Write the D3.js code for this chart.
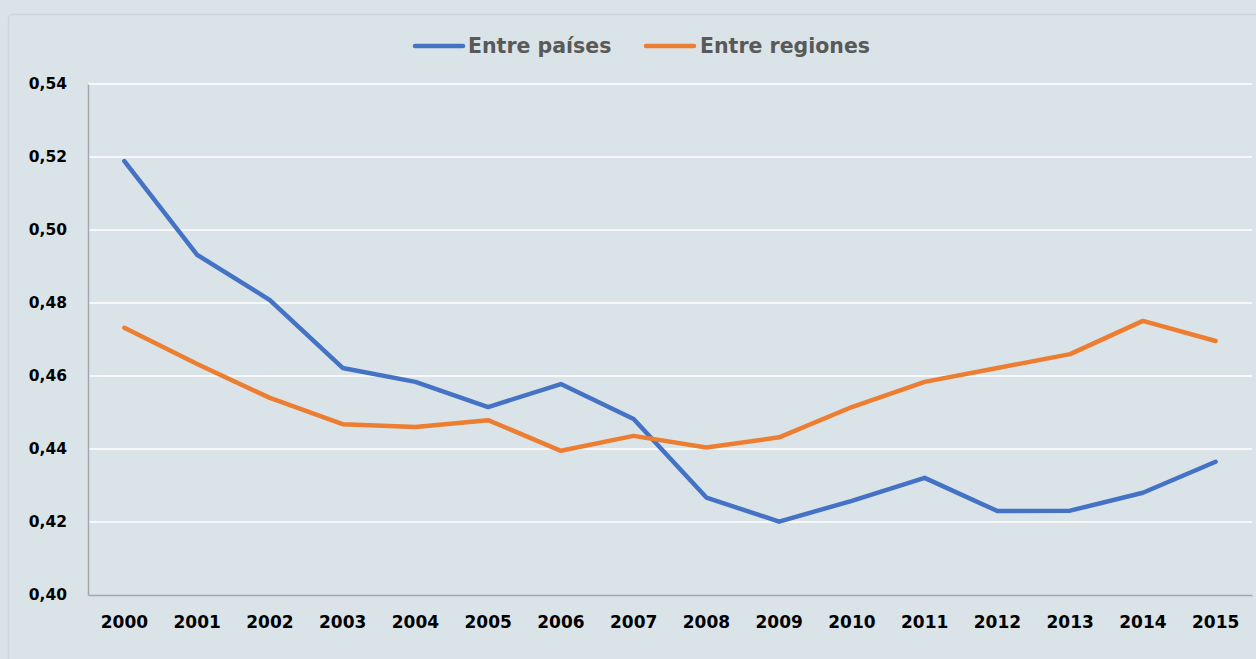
<!DOCTYPE html>
<html><head><meta charset="utf-8">
<script src="https://cdn.jsdelivr.net/npm/d3@7"></script>
<style>
html,body{margin:0;padding:0;background:#dae4e8;}
svg{display:block;}
</style></head>
<body>
<svg id="chart" width="1256" height="659"></svg>
<script>
const years = ["2000","2001","2002","2003","2004","2005","2006","2007","2008","2009","2010","2011","2012","2013","2014","2015"];
const entrePaises = [0.5189,0.4932,0.4808,0.4622,0.4584,0.4515,0.4578,0.4482,0.4267,0.4201,0.4258,0.4321,0.4230,0.4231,0.4280,0.4365];
const entreRegiones = [0.4732,0.4633,0.4540,0.4468,0.4460,0.4479,0.4395,0.4436,0.4404,0.4432,0.4515,0.4584,0.4622,0.4660,0.4751,0.4696];
const yTicks = [0.40,0.42,0.44,0.46,0.48,0.50,0.52,0.54];
const seriesNames = ["Entre países","Entre regiones"];
const colors = ["#4472C4","#ED7D31"];

const svg = d3.select("#chart");
const W = 1256, H = 659;
const m = {left:88, right:4, top:84, bottom:64};

svg.append("rect").attr("x",8.5).attr("y",14.5).attr("width",1300).attr("height",700)
  .attr("rx",4).attr("fill","#dae4e8").attr("stroke","#cfd5d8").attr("stroke-width",1.5);

const x = d3.scaleBand().domain(years).range([m.left, W - m.right]);
const y = d3.scaleLinear().domain([0.40,0.54]).range([H - m.bottom, m.top]);

// gridlines
svg.append("g").selectAll("line").data(yTicks.slice(1)).join("line")
  .attr("x1",m.left).attr("x2",W - m.right)
  .attr("y1",d=>y(d)).attr("y2",d=>y(d))
  .attr("stroke","#ffffff").attr("stroke-width",1.5);

// y axis
const yAxis = svg.append("g").attr("transform",`translate(${m.left},0)`)
  .call(d3.axisLeft(y).tickValues(yTicks).tickSize(0).tickPadding(21)
    .tickFormat(d=>d3.format(".2f")(d).replace(".",",")));
yAxis.select(".domain").attr("stroke","#a6a6a6").attr("stroke-width",1.5);
yAxis.selectAll("text").attr("font-family","DejaVu Sans").attr("font-weight","bold")
  .attr("font-size","15.5px").attr("fill","#000");

// x axis
const xAxis = svg.append("g").attr("transform",`translate(0,${H - m.bottom})`)
  .call(d3.axisBottom(x).tickSize(0).tickPadding(21));
xAxis.select(".domain").attr("stroke","#a6a6a6").attr("stroke-width",1.5);
xAxis.selectAll("text").attr("font-family","DejaVu Sans").attr("font-weight","bold")
  .attr("font-size","17px").attr("fill","#000");

// lines
const line = d3.line().x((d,i)=>x(years[i]) + x.bandwidth()/2).y(d=>y(d));
[entrePaises, entreRegiones].forEach((s,k)=>{
  svg.append("path").datum(s).attr("d",line).attr("fill","none")
    .attr("stroke",colors[k]).attr("stroke-width",4.5)
    .attr("stroke-linejoin","round").attr("stroke-linecap","round");
});

// legend
const legendPos = [{lx:415, tx:468},{lx:646, tx:700}];
const lg = svg.append("g");
seriesNames.forEach((n,k)=>{
  lg.append("line").attr("x1",legendPos[k].lx).attr("x2",legendPos[k].lx+48)
    .attr("y1",46).attr("y2",46).attr("stroke",colors[k]).attr("stroke-width",4.5)
    .attr("stroke-linecap","round");
  lg.append("text").attr("x",legendPos[k].tx).attr("y",53).text(n)
    .attr("font-family","DejaVu Sans").attr("font-weight","bold")
    .attr("font-size","20.5px").attr("fill","#595959");
});
</script>
</body></html>
